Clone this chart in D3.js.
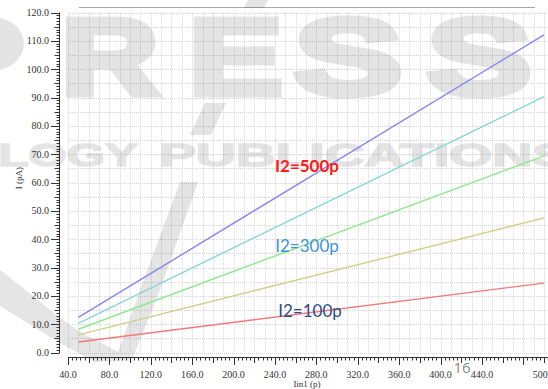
<!DOCTYPE html>
<html>
<head>
<meta charset="utf-8">
<script src="https://cdn.jsdelivr.net/npm/d3@7/dist/d3.min.js"></script>
<style>
  html, body { margin: 0; padding: 0; background: #fff; }
  svg { display: block; }
</style>
</head>
<body>
<svg id="chart" width="548" height="389"></svg>
<script>
// Sweep of input current Iin1 (pA) against output current I (pA), one line per bias I2
const sweepX = [50, 500];
const seriesNames = ["I2=500p", "I2=400p", "I2=300p", "I2=200p", "I2=100p"];
const seriesValues = [
  [12.4, 112.1],
  [10.3, 90.3],
  [8.2, 69.4],
  [6.2, 47.5],
  [3.7, 24.5]
];
const seriesColors = ["#8585ee", "#86d6d6", "#8ee88e", "#cfcf8c", "#f07a7a"];

const xTickLabels = [40, 80, 120, 160, 200, 240, 280, 320, 360, 400, 440, 500];
const yTickLabels = [0, 10, 20, 30, 40, 50, 60, 70, 80, 90, 100, 110, 120];

// Text callouts naming the bias of three of the curves
const calloutTexts = ["I2=500p", "I2=300p", "I2=100p"];
const calloutAt = [[307, 172], [307, 252], [310, 317]];
const calloutColors = ["#ff1a1a", "#3f95d6", "#2f4b8c"];
const calloutWeights = ["bold", "normal", "normal"];

const svg = d3.select("#chart");
const W = 548;

const x = d3.scaleLinear().domain([40, 500]).range([68, 544]);
const y = d3.scaleLinear().domain([0, 120]).range([352.5, 12.5]);

// thin rule above the plot
svg.append("line")
  .attr("x1", 79).attr("x2", 535).attr("y1", 7.5).attr("y2", 7.5)
  .attr("stroke", "#a8a8a8").attr("stroke-width", 1);

// grid
const grid = svg.append("g").attr("stroke", "#d4d4d4").attr("stroke-width", 1)
  .attr("stroke-dasharray", "1,1");
grid.selectAll("line.v").data(d3.range(40, 501, 10)).join("line")
  .attr("class", "v")
  .attr("x1", d => Math.round(x(d)) + 0.5).attr("x2", d => Math.round(x(d)) + 0.5)
  .attr("y1", y(120)).attr("y2", y(0));
grid.selectAll("line.h").data(d3.range(0, 121, 5)).join("line")
  .attr("class", "h")
  .attr("x1", x(40)).attr("x2", W)
  .attr("y1", d => Math.round(y(d)) + 0.5).attr("y2", d => Math.round(y(d)) + 0.5);

// publisher watermark (whole group faded once so strokes and fills do not stack)
const wm = svg.append("g").attr("opacity", 0.1)
  .attr("fill", "#000").attr("stroke", "#000").attr("stroke-linejoin", "miter")
  .attr("font-family", "Liberation Sans").attr("font-weight", "bold");
const wmBig = [["P", -66, 1.25], ["R", 61, 1.25], ["E", 189, 1.3], ["S", 294, 1.5], ["S", 427, 1.45]];
wm.selectAll("text.big").data(wmBig).join("text")
  .attr("class", "big")
  .attr("transform", d => `translate(${d[1]},94) scale(${d[2]},1)`)
  .attr("font-size", 108).attr("stroke-width", 7)
  .text(d => d[0]);
wm.append("text").attr("x", -210).attr("y", 166).attr("font-size", 32).attr("stroke-width", 1.5)
  .attr("textLength", 348).attr("lengthAdjust", "spacingAndGlyphs").text("TECHNOLOGY");
wm.append("text").attr("x", 159).attr("y", 166).attr("font-size", 32).attr("stroke-width", 1.5)
  .attr("textLength", 410).attr("lengthAdjust", "spacingAndGlyphs").text("PUBLICATIONS");
wm.append("path").attr("stroke", "none").attr("d", "M205,103 L226,103 L211,135 L190,135 Z");
wm.append("path").attr("stroke", "none").attr("d", "M248,0 L268,0 L264,8 L244,8 Z");
wm.append("path").attr("stroke", "none")
  .attr("d", "M-10,262 C40,300 70,330 100,342 L118,352 L140,290 L180,182 L198,182 L160,290 L132,360 L95,362 C60,345 20,318 -10,300 Z");

// y axis
const ya = svg.append("g").attr("stroke", "#333").attr("stroke-width", 1);
ya.append("line").attr("x1", 59.5).attr("x2", 59.5).attr("y1", y(120)).attr("y2", y(0) + 0.5);
ya.selectAll("line.t").data(d3.range(0, 121, 1)).join("line")
  .attr("class", "t")
  .attr("x1", d => d % 10 === 0 ? 51 : (d % 5 === 0 ? 54.5 : 56.5)).attr("x2", 59.5)
  .attr("y1", d => Math.round(y(d)) + 0.5).attr("y2", d => Math.round(y(d)) + 0.5);
svg.append("g").selectAll("text").data(yTickLabels).join("text")
  .attr("x", 49).attr("y", d => y(d)).attr("dy", "0.35em")
  .attr("text-anchor", "end")
  .attr("font-family", "Liberation Serif").attr("font-size", 10).attr("fill", "#333")
  .text(d => d.toFixed(1));

// x axis
const xa = svg.append("g").attr("stroke", "#333").attr("stroke-width", 1);
xa.append("line").attr("x1", x(40)).attr("x2", W).attr("y1", 357.5).attr("y2", 357.5);
xa.selectAll("line.t").data(d3.range(40, 505, 4)).join("line")
  .attr("class", "t")
  .attr("x1", d => Math.round(x(d)) + 0.5).attr("x2", d => Math.round(x(d)) + 0.5)
  .attr("y1", 357.5)
  .attr("y2", d => (d - 40) % 40 === 0 ? 365 : ((d - 40) % 20 === 0 ? 363 : 360.5));
svg.append("g").selectAll("text").data(xTickLabels).join("text")
  .attr("x", d => x(d)).attr("y", 378)
  .attr("text-anchor", "middle")
  .attr("font-family", "Liberation Serif").attr("font-size", 10).attr("fill", "#333")
  .text(d => d.toFixed(1));

// axis titles
svg.append("text").attr("transform", "translate(22,178) rotate(-90)")
  .attr("text-anchor", "middle")
  .attr("font-family", "Liberation Serif").attr("font-size", 9).attr("fill", "#333")
  .text("I (pA)");
svg.append("text").attr("x", 307).attr("y", 387)
  .attr("text-anchor", "middle")
  .attr("font-family", "Liberation Serif").attr("font-size", 9).attr("fill", "#333")
  .text("Iin1 (p)");

// curves
const line = d3.line().x(d => x(d[0])).y(d => y(d[1]));
svg.append("g").selectAll("path").data(seriesValues).join("path")
  .attr("d", vals => line(sweepX.map((v, i) => [v, vals[i]])))
  .attr("fill", "none")
  .attr("stroke", (d, i) => seriesColors[i])
  .attr("stroke-width", 1.4)
  .append("title").text((d, i) => seriesNames[i]);

// callouts
svg.append("g").selectAll("text").data(calloutTexts).join("text")
  .attr("x", (d, i) => calloutAt[i][0]).attr("y", (d, i) => calloutAt[i][1])
  .attr("text-anchor", "middle")
  .attr("font-family", "Lato").attr("font-size", 17)
  .attr("font-weight", (d, i) => calloutWeights[i])
  .attr("fill", (d, i) => calloutColors[i])
  .text(d => d);

// page number
svg.append("text").attr("x", 462).attr("y", 373)
  .attr("text-anchor", "middle")
  .attr("font-family", "Open Sans").attr("font-size", 15).attr("fill", "#8a8a8a")
  .text("16");
</script>
</body>
</html>
